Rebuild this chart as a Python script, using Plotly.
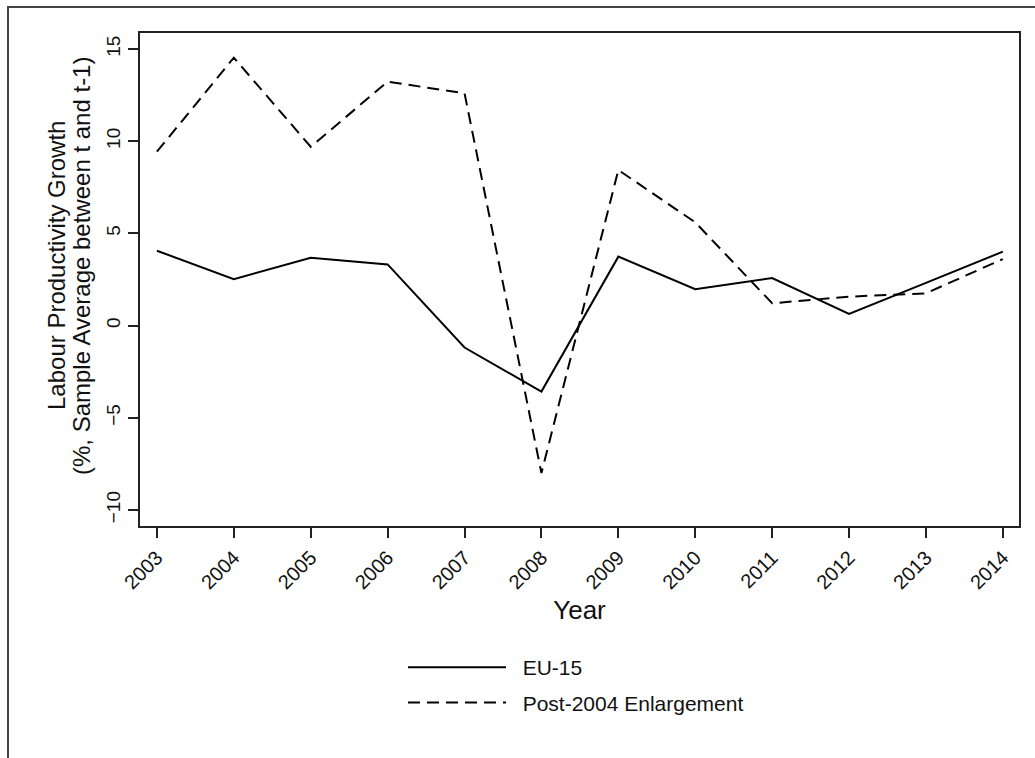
import plotly.graph_objects as go

years = [2003, 2004, 2005, 2006, 2007, 2008, 2009, 2010, 2011, 2012, 2013, 2014]
eu15 = [4.06, 2.52, 3.68, 3.32, -1.19, -3.58, 3.74, 1.97, 2.58, 0.63, 2.32, 4.01]
post2004 = [9.43, 14.53, 9.70, 13.23, 12.60, -8.00, 8.44, 5.60, 1.21, 1.57, 1.75, 3.61]
y_ticks = [-10, -5, 0, 5, 10, 15]
series_names = ["EU-15", "Post-2004 Enlargement"]

FONT = "Liberation Sans, Arial, sans-serif"
GAP = "\u00a0\u00a0"

fig = go.Figure()
fig.add_trace(go.Scatter(x=years, y=eu15, mode="lines", name=GAP + series_names[0],
                         legendgroup="a",
                         line=dict(color="black", width=2)))
fig.add_trace(go.Scatter(x=years, y=post2004, mode="lines", name=GAP + series_names[1],
                         legendgroup="b",
                         line=dict(color="black", width=2, dash="12px,7px")))

W, H = 1035, 758
L, R, T, B = 140, 1019, 33, 526
pw, ph = R - L, B - T

def px(x):
    return (x - L) / pw

def py(y):
    return (B - y) / ph

fig.update_layout(
    width=W, height=H, autosize=False,
    margin=dict(l=L, r=W - R, t=T, b=H - B, pad=0),
    paper_bgcolor="white", plot_bgcolor="white",
    font=dict(family=FONT, color="black"),
    showlegend=True,
    legend=dict(x=px(403), y=py(647), xanchor="left", yanchor="top",
                orientation="v", font=dict(size=21, family=FONT, color="#111"),
                itemwidth=98, tracegroupgap=5, bgcolor="rgba(0,0,0,0)",
                itemclick=False, itemdoubleclick=False),
    xaxis=dict(range=[2002.78, 2014.21], tickmode="array", tickvals=years,
               ticktext=[str(y) for y in years], tickangle=-45,
               tickfont=dict(size=20, family=FONT, color="#111"),
               ticks="outside", ticklen=10, tickwidth=1.5, tickcolor="#222",
               showline=True, linecolor="#222", linewidth=2, mirror=True,
               showgrid=False, zeroline=False,
               title=dict(text="Year", font=dict(size=26, family=FONT, color="#111"),
                          standoff=8)),
    yaxis=dict(range=[-10.87, 15.87], tickmode="array", tickvals=y_ticks,
               tickangle=-90,
               tickfont=dict(size=19, family=FONT, color="#111"),
               ticks="outside", ticklen=10, tickwidth=1.5, tickcolor="#222",
               showline=True, linecolor="#222", linewidth=2, mirror=True,
               showgrid=False, zeroline=False),
    shapes=[dict(type="rect", xref="paper", yref="paper",
                 x0=px(8), x1=px(1060), y0=py(790), y1=py(7),
                 line=dict(color="#444", width=2), fillcolor="rgba(0,0,0,0)",
                 layer="below")],
    annotations=[
        dict(text="Labour Productivity Growth", xref="paper", yref="paper",
             x=px(56), y=py(266), xanchor="center", yanchor="middle",
             textangle=-90, showarrow=False,
             font=dict(size=24, family=FONT, color="#111")),
        dict(text="(%, Sample Average between t and t-1)", xref="paper", yref="paper",
             x=px(81), y=py(266), xanchor="center", yanchor="middle",
             textangle=-90, showarrow=False,
             font=dict(size=24, family=FONT, color="#111")),
    ],
)

fig.write_html("out.html", config={"displayModeBar": False},
               post_script="document.body.style.margin='0px';document.body.style.overflow='hidden';")
